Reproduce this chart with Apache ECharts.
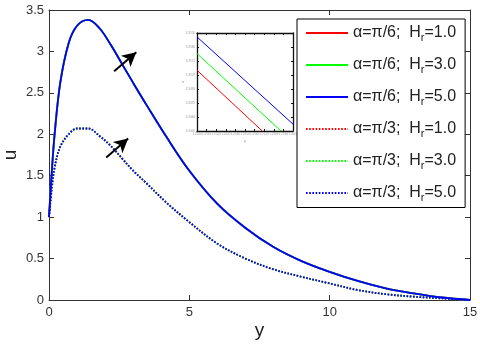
<!DOCTYPE html>
<html>
<head>
<meta charset="utf-8">
<script src="https://cdn.jsdelivr.net/npm/echarts@6/dist/echarts.min.js"></script>
<style>
  html, body { margin: 0; padding: 0; background: #fff; }
  #chart { width: 480px; height: 348px; }
</style>
</head>
<body>
<div id="chart"></div>
<script>
// main plot: u(y)
const yPts = [0, 0.1, 0.2, 0.4, 0.7, 1.0, 1.4, 1.8, 2.2, 2.6, 3.0, 3.5, 4.2, 5.0, 6.0, 7.0, 8.0, 9.0, 10.0, 11.0, 12.0, 13.0, 14.0, 15.0];
const uPi6 = [1.0, 1.55, 2.0, 2.62, 3.1, 3.31, 3.38, 3.28, 3.08, 2.85, 2.62, 2.34, 1.96, 1.56, 1.16, 0.87, 0.64, 0.47, 0.34, 0.23, 0.14, 0.08, 0.03, 0.0];
const uPi3 = [1.0, 1.35, 1.6, 1.85, 2.0, 2.07, 2.07, 1.98, 1.86, 1.71, 1.56, 1.40, 1.17, 0.94, 0.68, 0.50, 0.37, 0.28, 0.20, 0.12, 0.07, 0.04, 0.02, 0.0];

const alphaLabels = ['π/6', 'π/6', 'π/6', 'π/3', 'π/3', 'π/3'];
const hrValues = ['1.0', '3.0', '5.0', '1.0', '3.0', '5.0'];
const lineColors = ['#ff0000', '#00ff00', '#0000ff', '#ff0000', '#00ff00', '#0000ff'];

// inset (zoomed view) lines
const insetRed = [[0, 0.62], [0.68, 0]];
const insetGreen = [[0, 0.79], [0.875, 0]];
const insetBlue = [[0, 0.96], [1, 0.07]];

// arrows [tail, head] in data units
const arrows = [
  [[2.32, 2.76], [3.11, 2.99]],
  [[2.04, 1.72], [2.82, 1.95]]
];

const pairs = (xs, ys) => xs.map((x, i) => [x, ys[i]]);

const chart = echarts.init(document.getElementById('chart'));

const mainSeries = alphaLabels.map((a, i) => {
  const dotted = a === 'π/3';
  const s = {
    name: `α=${a}; H_r=${hrValues[i]}`,
    type: 'line',
    xAxisIndex: 0,
    yAxisIndex: 0,
    data: pairs(yPts, dotted ? uPi3 : uPi6),
    smooth: 0.35,
    showSymbol: false,
    symbol: 'none',
    silent: true,
    z: i % 3 === 2 ? 3 : 2,
    lineStyle: {
      color: lineColors[i],
      width: 1.8,
      type: dotted ? [1.6, 1.6] : 'solid'
    },
    itemStyle: { color: lineColors[i] }
  };
  if (i === 2) {
    s.markLine = {
      silent: true,
      symbol: ['none', 'arrow'],
      symbolSize: [11, 14],
      label: { show: false },
      lineStyle: { color: '#000', width: 2, type: 'solid' },
      data: arrows.map(([t, h]) => [{ coord: t }, { coord: h }])
    };
  }
  return s;
});

const insetSeries = [insetRed, insetGreen, insetBlue].map((d, i) => ({
  name: 'inset' + i,
  type: 'line',
  xAxisIndex: 2,
  yAxisIndex: 2,
  data: d,
  showSymbol: false,
  symbol: 'none',
  silent: true,
  z: 6,
  lineStyle: { color: lineColors[i], width: 1 }
}));

const font = 'Liberation Sans, Arial, sans-serif';
const labelFont = { fontFamily: font, fontSize: 13, color: '#333' };
const boxLine = { onZero: false, lineStyle: { color: '#333', width: 1 } };
const boxTick = { inside: true, length: 5, lineStyle: { color: '#333' } };
const insetLine = { onZero: false, lineStyle: { color: '#111', width: 1.3 } };
const insetTick = { inside: true, length: 2, lineStyle: { color: '#111' } };

chart.setOption({
  animation: false,
  backgroundColor: '#fff',
  grid: [
    { left: 49, right: 10, top: 10, bottom: 48, outerBoundsMode: 'none', containLabel: false },
    { left: 197, top: 33, width: 96, height: 98, show: true, backgroundColor: '#fff', borderWidth: 0, z: 4, outerBoundsMode: 'none', containLabel: false }
  ],
  legend: {
    data: mainSeries.map(s => s.name),
    orient: 'vertical',
    left: 297,
    top: 19,
    itemWidth: 42,
    itemHeight: 14,
    itemGap: 13.5,
    padding: [6, 9, 4, 8],
    backgroundColor: '#fff',
    borderColor: '#000',
    borderWidth: 1,
    selectedMode: false,
    z: 6,
    itemStyle: { opacity: 0, borderWidth: 0 },
    formatter: name => {
      const m = name.match(/^(.*); H_r=(.*)$/);
      return `{t|${m[1]};  H}{s|r}{t|=${m[2]}}`;
    },
    textStyle: {
      rich: {
        t: { fontFamily: font, fontSize: 16, color: '#222', lineHeight: 20 },
        s: { fontFamily: font, fontSize: 11, color: '#222', padding: [10, 0, 0, 0] }
      }
    }
  },
  xAxis: [
    {
      type: 'value', gridIndex: 0, min: 0, max: 15, interval: 5,
      name: 'y', nameLocation: 'middle', nameGap: 21, nameMoveOverlap: false,
      nameTextStyle: { fontFamily: font, fontSize: 19, color: '#222' },
      axisLine: boxLine,
      axisTick: boxTick,
      axisLabel: { ...labelFont, margin: 6 },
      splitLine: { show: false }
    },
    {
      type: 'value', gridIndex: 0, min: 0, max: 15, interval: 5, position: 'top',
      axisLine: boxLine,
      axisTick: boxTick,
      axisLabel: { show: false },
      splitLine: { show: false }
    },
    {
      type: 'value', gridIndex: 1, min: 0, max: 1, interval: 0.1,
      axisLine: insetLine,
      axisTick: insetTick,
      axisLabel: { fontSize: 3, color: '#999', margin: 2, formatter: v => (1.25 + v * 0.01).toFixed(4) },
      splitLine: { show: false },
      name: 'y', nameLocation: 'middle', nameGap: 8, nameMoveOverlap: false,
      nameTextStyle: { fontSize: 4, color: '#999' },
      z: 5
    },
    {
      type: 'value', gridIndex: 1, min: 0, max: 1, interval: 0.1, position: 'top',
      axisLine: insetLine,
      axisTick: insetTick,
      axisLabel: { show: false },
      splitLine: { show: false },
      z: 5
    }
  ],
  yAxis: [
    {
      type: 'value', gridIndex: 0, min: 0, max: 3.5, interval: 0.5,
      name: 'u', nameLocation: 'middle', nameGap: 29, nameRotate: 90, nameMoveOverlap: false,
      nameTextStyle: { fontFamily: font, fontSize: 19, color: '#222' },
      axisLine: boxLine,
      axisTick: boxTick,
      axisLabel: { ...labelFont, margin: 5 },
      splitLine: { show: false }
    },
    {
      type: 'value', gridIndex: 0, min: 0, max: 3.5, interval: 0.5, position: 'right',
      axisLine: boxLine,
      axisTick: boxTick,
      axisLabel: { show: false },
      splitLine: { show: false }
    },
    {
      type: 'value', gridIndex: 1, min: 0, max: 1, interval: 0.142857,
      axisLine: insetLine,
      axisTick: insetTick,
      axisLabel: { fontSize: 3, color: '#999', margin: 2, formatter: v => (3.345 + v * 0.01).toFixed(4) },
      splitLine: { show: false },
      name: 'u', nameLocation: 'middle', nameGap: 12, nameRotate: 90, nameMoveOverlap: false,
      nameTextStyle: { fontSize: 4, color: '#999' },
      z: 5
    },
    {
      type: 'value', gridIndex: 1, min: 0, max: 1, interval: 0.142857, position: 'right',
      axisLine: insetLine,
      axisTick: insetTick,
      axisLabel: { show: false },
      splitLine: { show: false },
      z: 5
    }
  ],
  series: [...mainSeries, ...insetSeries]
});
</script>
</body>
</html>
